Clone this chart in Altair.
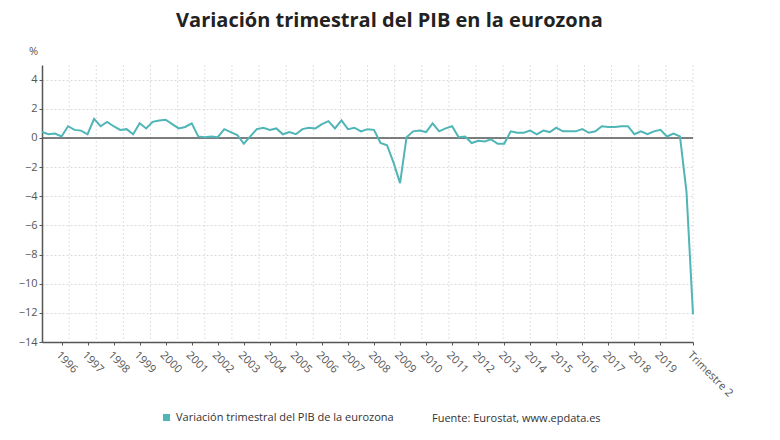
import altair as alt
import pandas as pd

# Quarterly GDP variation (%) in the eurozone, 1995 T2 .. 2020 T2
start_year = 1995
start_quarter = 2
variacion = [
    0.4, 0.25, 0.3,                      # 1995 T2-T4
    0.1, 0.8, 0.55, 0.5,                 # 1996
    0.25, 1.3, 0.8, 1.1,                 # 1997
    0.8, 0.55, 0.6, 0.25,                # 1998
    1.0, 0.65, 1.1, 1.2,                 # 1999
    1.25, 0.95, 0.65, 0.75,              # 2000
    1.0, 0.1, 0.05, 0.1,                 # 2001
    0.05, 0.6, 0.4, 0.2,                 # 2002
    -0.4, 0.1, 0.6, 0.7,                 # 2003
    0.55, 0.65, 0.25, 0.4,               # 2004
    0.25, 0.6, 0.7, 0.65,                # 2005
    0.95, 1.15, 0.65, 1.2,               # 2006
    0.6, 0.7, 0.45, 0.6,                 # 2007
    0.55, -0.35, -0.5, -1.7,             # 2008
    -3.1, 0.05, 0.45, 0.5,               # 2009
    0.4, 1.0, 0.45, 0.65,                # 2010
    0.8, 0.05, 0.1, -0.35,               # 2011
    -0.2, -0.25, -0.1, -0.4,             # 2012
    -0.4, 0.45, 0.35, 0.35,              # 2013
    0.5, 0.25, 0.5, 0.4,                 # 2014
    0.7, 0.45, 0.45, 0.45,               # 2015
    0.6, 0.35, 0.45, 0.8,                # 2016
    0.75, 0.75, 0.8, 0.8,                # 2017
    0.25, 0.45, 0.25, 0.45,              # 2018
    0.55, 0.1, 0.3, 0.1,                 # 2019
    -3.7, -12.1,                         # 2020 T1-T2
]
year_ticks = list(range(1996, 2020))
last_label = "Trimestre 2"
y_ticks = list(range(-14, 5, 2))
serie = "Variación trimestral del PIB de la eurozona"
fuente = "Fuente: Eurostat, www.epdata.es"
titulo = "Variación trimestral del PIB en la eurozona"

rows = []
y, q = start_year, start_quarter
for v in variacion:
    rows.append({"t": y + (q - 1) / 4, "valor": v, "serie": serie})
    q += 1
    if q > 4:
        q = 1
        y += 1
df = pd.DataFrame(rows)
t_min, t_max = df["t"].min(), df["t"].max()

# vertical grid splits the plot into 24 equal bands
grid_df = pd.DataFrame({"t": [t_min + k * (t_max - t_min) / 24 for k in range(1, 25)]})

teal = "#50b5b7"
grey = "#555555"

xscale = alt.Scale(domain=[t_min, t_max], nice=False, zero=False)
yscale = alt.Scale(domain=[-14, 5], nice=False)

xaxis = alt.Axis(
    values=year_ticks + [t_max],
    labelExpr=f"datum.value > 2020 ? '{last_label}' : format(datum.value, 'd')",
    labelAngle=45, labelAlign="left", labelBaseline="top",
    labelFontSize=11, labelColor=grey, labelPadding=4,
    grid=False, domainColor=grey, domainWidth=1.5,
    tickColor=grey, tickSize=3, title=None, labelOverlap=False,
)
yaxis = alt.Axis(
    values=y_ticks, format="d",
    grid=True, gridColor="#dadada", gridDash=[2, 2],
    domainColor=grey, domainWidth=1.5, tickColor=grey, tickSize=3,
    labelFontSize=11, labelColor=grey, labelPadding=2,
    title="%", titleAngle=0, titleX=-9, titleY=-14,
    titleAlign="center", titleBaseline="middle",
    titleFontWeight="normal", titleFontSize=11, titleColor=grey,
)

vgrid = alt.Chart(grid_df).mark_rule(color="#e0e0e0", strokeDash=[2, 2], strokeWidth=1).encode(
    x=alt.X("t:Q", scale=xscale, axis=xaxis),
)

zero = alt.Chart(pd.DataFrame({"v": [0]})).mark_rule(color=grey, strokeWidth=1.5).encode(
    y=alt.Y("v:Q", scale=yscale, axis=yaxis),
)

line = alt.Chart(df).mark_line(strokeWidth=2).encode(
    x=alt.X("t:Q", scale=xscale, axis=xaxis),
    y=alt.Y("valor:Q", scale=yscale, axis=yaxis),
    color=alt.Color(
        "serie:N",
        scale=alt.Scale(domain=[serie], range=[teal]),
        legend=alt.Legend(
            title=None, orient="none", legendX=119, legendY=347,
            symbolType="square", symbolSize=50, symbolStrokeWidth=0,
            symbolFillColor=teal, symbolOpacity=1,
            labelFontSize=11, labelColor="#333333", labelOffset=4,
            labelLimit=400,
        ),
    ),
)

src = alt.Chart(pd.DataFrame({"txt": [fuente]})).mark_text(
    align="left", baseline="middle", fontSize=11, color="#333333"
).encode(
    text="txt:N", x=alt.value(390), y=alt.value(354),
)

chart = alt.layer(vgrid, zero, line, src).properties(
    width=651, height=277,
    autosize=alt.AutoSizeParams(type="none"),
    padding={"left": 42, "top": 65, "right": 87, "bottom": 98},
    title=alt.Title(titulo, fontSize=20, fontWeight="bold", color="#222222",
                    anchor="middle", dx=22, offset=14),
).configure(font="Open Sans").configure_view(stroke=None)

chart.save("out.html", embed_options={"renderer": "svg", "actions": False})
